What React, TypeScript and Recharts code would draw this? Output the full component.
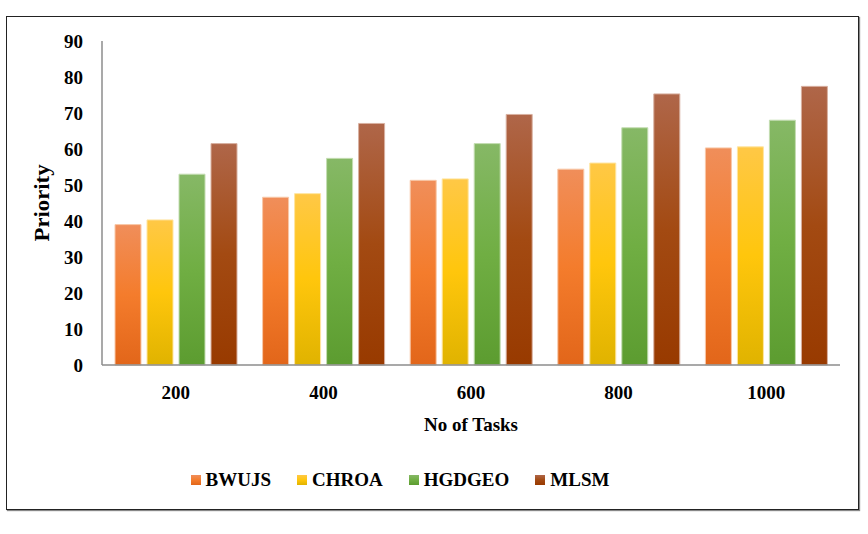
import React from "react"
import { BarChart, Bar, XAxis, YAxis, Legend } from "recharts"

// task counts on the x axis
const tasks = ["200", "400", "600", "800", "1000"]

// priority values per method
const bwujs = [39.0, 46.6, 51.3, 54.4, 60.3]
const chroa = [40.3, 47.6, 51.7, 56.1, 60.6]
const hgdgeo = [53.0, 57.4, 61.5, 65.9, 68.0]
const mlsm = [61.5, 67.1, 69.6, 75.3, 77.4]

const yTicks = [0, 10, 20, 30, 40, 50, 60, 70, 80, 90]

const series = [
  { key: "BWUJS", values: bwujs, top: "#F08E5A", mid: "#F47C2C", bottom: "#E2661A", edge: "#F8C8A8" },
  { key: "CHROA", values: chroa, top: "#FFC846", mid: "#FFC60C", bottom: "#E0B300", edge: "#FFE5A0" },
  { key: "HGDGEO", values: hgdgeo, top: "#86B866", mid: "#70AE43", bottom: "#5C9C30", edge: "#C4DDB2" },
  { key: "MLSM", values: mlsm, top: "#AF6649", mid: "#A34A12", bottom: "#983A00", edge: "#D8B0A0" },
]

const data = tasks.map((t, i) => {
  const row: any = { tasks: t }
  series.forEach((s) => {
    row[s.key] = s.values[i]
  })
  return row
})

const font = "Liberation Serif"

const LegendContent = () => (
  <div
    style={{
      height: 30,
      display: "flex",
      justifyContent: "center",
      alignItems: "center",
      paddingRight: 40,
      fontFamily: font,
      fontWeight: "bold",
      fontSize: 19,
      color: "#000",
    }}
  >
    {series.map((s) => (
      <div key={s.key} style={{ display: "flex", alignItems: "center", margin: "0 13px" }}>
        <span
          style={{
            display: "inline-block",
            width: 10,
            height: 10,
            marginRight: 5,
            background: `linear-gradient(${s.top}, ${s.mid}, ${s.bottom})`,
          }}
        />
        <span>{s.key}</span>
      </div>
    ))}
  </div>
)

// rotated axis title, stretched a little like the original
const YLabel = ({ viewBox }: any) => {
  const x = viewBox.x + 49
  const y = viewBox.y + viewBox.height / 2
  return (
    <text
      x={x}
      y={y}
      transform={`rotate(-90, ${x}, ${y})`}
      textAnchor="middle"
      textLength={77}
      lengthAdjust="spacingAndGlyphs"
      fontFamily={font}
      fontWeight="bold"
      fontSize={20}
      fill="#000"
    >
      Priority
    </text>
  )
}

const tickStyle = { fill: "#000", fontFamily: font, fontWeight: "bold", fontSize: 19 }

export default function App() {
  return (
    <div
      style={{
        position: "fixed",
        left: 0,
        top: 0,
        width: 868,
        height: 534,
        background: "#fff",
        fontFamily: font,
      }}
    >
      <div
        style={{
          position: "absolute",
          left: 6,
          top: 16,
          width: 851,
          height: 492,
          border: "1.5px solid #222",
          boxShadow: "1px 1px 1px #888",
        }}
      />
      <BarChart
        width={868}
        height={534}
        data={data}
        margin={{ top: 41, right: 28, left: 0, bottom: 39 }}
        barCategoryGap={13}
        barGap={6}
      >
        <defs>
          {series.map((s) => (
            <linearGradient key={s.key} id={`grad-${s.key}`} x1="0" y1="0" x2="0" y2="1">
              <stop offset="0%" stopColor={s.top} />
              <stop offset="50%" stopColor={s.mid} />
              <stop offset="100%" stopColor={s.bottom} />
            </linearGradient>
          ))}
        </defs>
        <XAxis
          dataKey="tasks"
          height={100}
          tickLine={false}
          tickMargin={15}
          axisLine={{ stroke: "#8c8c8c", strokeWidth: 1.5 }}
          tick={tickStyle}
          label={{
            value: "No of Tasks",
            position: "insideBottom",
            offset: 34,
            fill: "#000",
            fontFamily: font,
            fontWeight: "bold",
            fontSize: 19,
          }}
        />
        <YAxis
          width={102}
          domain={[0, 90]}
          ticks={yTicks}
          interval={0}
          tickLine={false}
          tickMargin={13}
          axisLine={{ stroke: "#8c8c8c", strokeWidth: 1.5 }}
          tick={tickStyle}
          label={<YLabel />}
        />
        <Legend verticalAlign="bottom" height={30} content={<LegendContent />} />
        {series.map((s) => (
          <Bar
            key={s.key}
            dataKey={s.key}
            fill={`url(#grad-${s.key})`}
            stroke={s.edge}
            strokeWidth={1}
            isAnimationActive={false}
          />
        ))}
      </BarChart>
    </div>
  )
}
